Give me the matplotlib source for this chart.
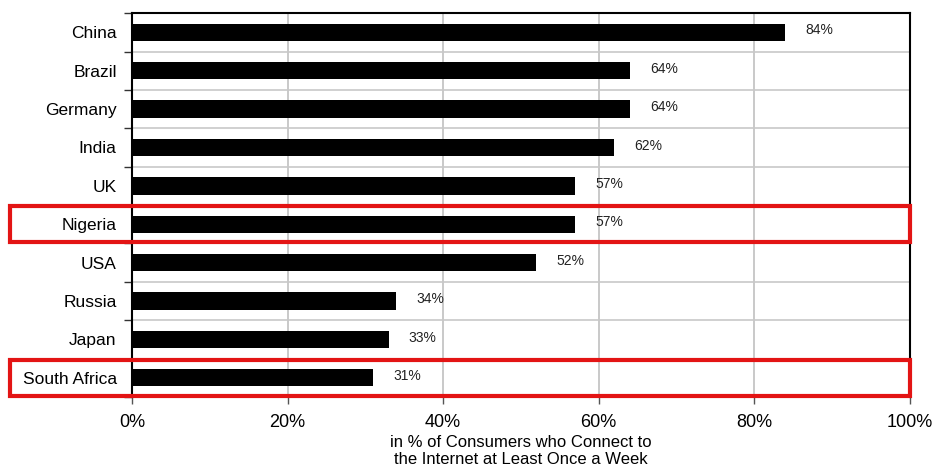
import numpy as np
from matplotlib import pyplot as plt
from matplotlib.patches import Rectangle
from matplotlib import transforms

# Dados
paises = ["China", "Brazil", "Germany", "India", "UK",
          "Nigeria", "USA", "Russia", "Japan", "South Africa"]
valores = [84, 64, 64, 62, 57, 57, 52, 34, 33, 31]
destaques = ["Nigeria", "South Africa"]
xticks = [0, 20, 40, 60, 80, 100]

plt.rcParams["font.family"] = ["Liberation Sans", "DejaVu Sans"]

fig = plt.figure(figsize=(9.36, 4.69), dpi=100)
ax = fig.add_axes([0.141, 0.1535, 0.831, 0.8185])

y = np.arange(len(paises))
ax.barh(y, valores, height=0.45, color="black", zorder=3)

for yi, v in zip(y, valores):
    ax.text(v + 2.6, yi - 0.05, f"{v}%", va="center", ha="left",
            fontsize=10, color="#222222", zorder=4)

ax.set_xlim(0, 100)
ax.set_ylim(len(paises) - 0.5, -0.5)
ax.set_yticks(y)
ax.set_yticklabels(paises, fontsize=12.5)
ax.set_yticks(np.arange(len(paises) + 1) - 0.5, minor=True)
ax.tick_params(axis="y", which="major", length=0, pad=11)
ax.tick_params(axis="y", which="minor", length=6, width=1, color="#333333")
ax.set_xticks(xticks)
ax.set_xticklabels([f"{t}%" for t in xticks], fontsize=13)
ax.tick_params(axis="x", length=5, width=1, color="#555555", pad=7)

ax.grid(axis="x", color="#c0c0c0", linewidth=1.2, zorder=0)
ax.grid(axis="y", which="minor", color="#c8c8c8", linewidth=1.2, zorder=0)
ax.spines["bottom"].set_visible(False)
for s in ["top", "left", "right"]:
    ax.spines[s].set_color("black")
    ax.spines[s].set_linewidth(1.5)

ax.set_xlabel("in % of Consumers who Connect to\nthe Internet at Least Once a Week",
              fontsize=12, labelpad=3, linespacing=1.2)

# Caixas vermelhas de destaque
trans = transforms.blended_transform_factory(ax.transAxes, ax.transData)
for nome in destaques:
    i = paises.index(nome)
    r = Rectangle((-0.157, i - 0.47), 1.157, 0.94, transform=trans,
                  fill=False, edgecolor="#e31414", linewidth=3,
                  clip_on=False, zorder=5)
    ax.add_patch(r)

plt.savefig("out.png", dpi=100)
